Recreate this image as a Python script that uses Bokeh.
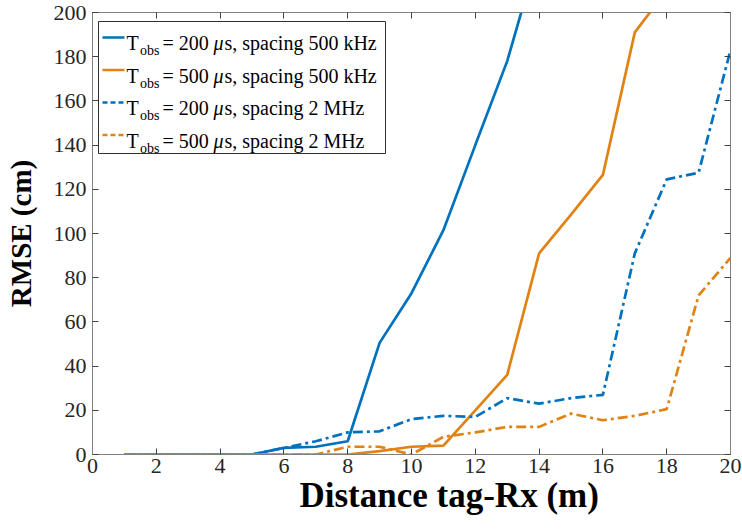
from bokeh.plotting import figure
from bokeh.models import (LinearAxis, FixedTicker, Range1d, BoxAnnotation, Label, Title,
                          CustomJSTickFormatter)
from bokeh.embed import file_html
from bokeh.resources import INLINE

# ---- data ----
dist_500k_200 = [1, 2, 3, 4, 5, 6, 7, 8, 9, 10, 11, 12, 13, 14]
rmse_500k_200 = [0, 0, 0, 0, 0, 3, 3.5, 6, 50.5, 73, 101.5, 140, 178, 228]

dist_500k_500 = [1, 2, 3, 4, 5, 6, 7, 8, 9, 10, 11, 12, 13, 14, 15, 16, 17, 18]
rmse_500k_500 = [0, 0, 0, 0, 0, 0, 0, 0, 1.5, 3.5, 4, 20, 36, 91, 108.5, 126.5, 191, 210]

dist_2M_200 = [1, 2, 3, 4, 5, 6, 7, 8, 9, 10, 11, 12, 13, 14, 15, 16, 17, 18, 19, 20]
rmse_2M_200 = [0, 0, 0, 0, 0, 3, 6, 10, 10.5, 16, 17.5, 17, 25.5, 23, 25.5, 27, 91, 124.5, 127.5, 183]

dist_2M_500 = [1, 2, 3, 4, 5, 6, 7, 8, 9, 10, 11, 12, 13, 14, 15, 16, 17, 18, 19, 20]
rmse_2M_500 = [0, 0, 0, 0, 0, 0, 0, 3.5, 3.5, 0, 8, 10, 12.5, 12.5, 18.5, 15.5, 17.5, 20.5, 72, 89]

x_ticks = [0, 2, 4, 6, 8, 10, 12, 14, 16, 18, 20]
y_ticks = [0, 20, 40, 60, 80, 100, 120, 140, 160, 180, 200]

x_title = "Distance tag-Rx (m)"
y_title = "RMSE (cm)"
legend_values = ["= 200 ", "= 500 ", "= 200 ", "= 500 "]
legend_rest = ["s, spacing 500 kHz", "s, spacing 500 kHz", "s, spacing 2 MHz", "s, spacing 2 MHz"]

# ---- style ----
BLUE = "#0072BD"
ORANGE = "#E08214"
FONT = "Liberation Serif"
AX = "#808080"
TXT = "#262626"
LW = 2.7
DASH = "10 4 3 4"

W, H = 742, 522
BL, BR, BT, BB = 92, 12, 12, 68
FRAME_L = BL
FRAME_T = BT
FRAME_R = W - BR
FRAME_B = H - BB
XS = (FRAME_R - FRAME_L) / 20.0
YS = (FRAME_B - FRAME_T) / 200.0


def px2x(px):
    return (px - FRAME_L) / XS


def py2y(py):
    return (FRAME_B - py) / YS


p = figure(width=W, height=H, output_backend="svg", toolbar_location=None,
           x_range=Range1d(0, 20), y_range=Range1d(0, 200),
           min_border_left=BL, min_border_right=BR, min_border_top=BT,
           min_border_bottom=BB)
p.xgrid.visible = False
p.ygrid.visible = False
p.outline_line_color = AX
p.background_fill_color = "white"
p.border_fill_color = "white"

for ax in (p.xaxis[0], p.yaxis[0]):
    ax.major_label_text_font = FONT
    ax.major_label_text_font_size = "22px"
    ax.major_label_text_color = TXT
    ax.axis_label_text_font = FONT
    ax.axis_label_text_font_style = "bold"
    ax.axis_label_text_color = "black"
    ax.axis_line_color = AX
    ax.major_tick_line_color = "#404040"
    ax.major_tick_in = 6
    ax.major_tick_out = 0
    ax.minor_tick_line_color = None

p.xaxis[0].ticker = FixedTicker(ticks=x_ticks)
p.yaxis[0].ticker = FixedTicker(ticks=y_ticks)
p.yaxis[0].axis_label = y_title
p.yaxis[0].axis_label_text_font_size = "29px"
p.xaxis[0].major_label_standoff = 4
p.yaxis[0].major_label_standoff = 6
p.yaxis[0].axis_label_standoff = 14

# x-axis title, placed as in the reference (slightly right of centre)
xt = Title(text=x_title, text_font=FONT, text_font_size="35px", text_font_style="bold",
           text_color="black", align="left", offset=207, standoff=0,
           text_line_height=0.75, vertical_align="top")
p.add_layout(xt, "below")

blank = CustomJSTickFormatter(code="return '';")
for side, tk in (("right", y_ticks), ("above", x_ticks)):
    a = LinearAxis(ticker=FixedTicker(ticks=tk), formatter=blank)
    a.major_label_standoff = 0
    a.axis_line_color = AX
    a.major_tick_line_color = "#404040"
    a.major_tick_in = 6
    a.major_tick_out = 0
    a.minor_tick_line_color = None
    p.add_layout(a, side)

p.line(dist_500k_200, rmse_500k_200, line_color=BLUE, line_width=LW)
p.line(dist_500k_500, rmse_500k_500, line_color=ORANGE, line_width=LW)
p.line(dist_2M_200, rmse_2M_200, line_color=BLUE, line_width=LW, line_dash=DASH)
p.line(dist_2M_500, rmse_2M_500, line_color=ORANGE, line_width=LW, line_dash=DASH)

# ---- manual legend ----
box = BoxAnnotation(left=px2x(98), right=px2x(385), top=py2y(21), bottom=py2y(153),
                    fill_color=None, line_color="#303030",
                    line_width=1, line_alpha=1.0)
p.add_layout(box)

colors = [BLUE, ORANGE, BLUE, ORANGE]
dashes = ["solid", "solid", "5 3", "5 3"]
row_mid = [37, 69.5, 102, 134.5]
row_base = [42.5, 75, 107.5, 140]
for i in range(4):
    p.segment(x0=[px2x(102)], y0=[py2y(row_mid[i])], x1=[px2x(124)], y1=[py2y(row_mid[i])],
              line_color=colors[i], line_width=LW, line_dash=dashes[i])
    p.add_layout(Label(x=px2x(126), y=py2y(row_base[i]), text="T", text_font=FONT,
                       text_font_size="20px", text_color="black", text_baseline="alphabetic"))
    p.add_layout(Label(x=px2x(139.5), y=py2y(row_base[i] + 7.5), text="obs", text_font=FONT,
                       text_font_size="14px", text_color="black", text_baseline="alphabetic"))
    p.add_layout(Label(x=px2x(162), y=py2y(row_base[i]), text=legend_values[i], text_font=FONT,
                       text_font_size="20px", text_color="black", text_baseline="alphabetic"))
    p.add_layout(Label(x=px2x(213), y=py2y(row_base[i]), text="\u03bc", text_font=FONT,
                       text_font_size="20px", text_font_style="italic", text_color="black",
                       text_baseline="alphabetic"))
    p.add_layout(Label(x=px2x(224), y=py2y(row_base[i]), text=legend_rest[i], text_font=FONT,
                       text_font_size="20px", text_color="black", text_baseline="alphabetic"))

open("out.html", "w").write(file_html(p, INLINE))
